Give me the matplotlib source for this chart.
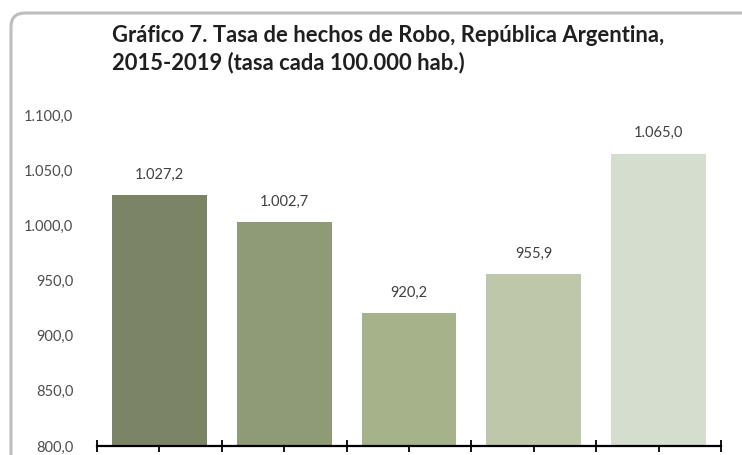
import matplotlib.pyplot as plt
from matplotlib.patches import FancyBboxPatch
from matplotlib.transforms import IdentityTransform

# data
years = ['2015', '2016', '2017', '2018', '2019']
tasa = [1027.2, 1002.7, 920.2, 955.9, 1065.0]
value_labels = ['1.027,2', '1.002,7', '920,2', '955,9', '1.065,0']
y_ticks = [800, 850, 900, 950, 1000, 1050, 1100]
y_tick_labels = ['800,0', '850,0', '900,0', '950,0', '1.000,0', '1.050,0', '1.100,0']
bar_colors = ['#7b8566', '#8f9a77', '#a6b38a', '#bfc7ab', '#d5ddcf']

plt.rcParams['font.family'] = ['Lato', 'DejaVu Sans']

fig = plt.figure(figsize=(7.42, 4.55), dpi=100)

# rounded chart-area frame (cut off at right and bottom like the source)
frame = FancyBboxPatch((11, -30), 800, 472, boxstyle='round,pad=0,rounding_size=14',
                       transform=IdentityTransform(), facecolor='white',
                       edgecolor='#bdbdbd', linewidth=2.2, zorder=-5)
fig.patches.append(frame)

ax = fig.add_axes([97 / 742, 1 - 446 / 455, 624 / 742, 331 / 455])
ax.set_zorder(2)
ax.patch.set_alpha(0)

x = list(range(len(years)))
ax.bar(x, tasa, width=0.76, color=bar_colors, zorder=2)

for xi, v, lab in zip(x, tasa, value_labels):
    ax.text(xi, v + 12, lab, ha='center', va='bottom', fontsize=10.5, color='#404040')

ax.set_ylim(800, 1100)
ax.set_xlim(-0.5, len(years) - 0.5)
ax.set_yticks(y_ticks)
ax.set_yticklabels(y_tick_labels, fontsize=10.5, color='#4d4d4d')
ax.tick_params(axis='y', length=0, pad=17)

ax.set_xticks([i * 0.5 - 0.5 for i in range(2 * len(years) + 1)])
ax.set_xticklabels([])
ax.tick_params(axis='x', direction='inout', length=9, width=1.3, color='black')

for side in ['top', 'right', 'left']:
    ax.spines[side].set_visible(False)
ax.spines['bottom'].set_linewidth(1.6)
ax.spines['bottom'].set_color('black')

fig.text(112 / 742, 1 - 25 / 455,
         'Gráfico 7. Tasa de hechos de Robo, República Argentina,\n2015-2019 (tasa cada 100.000 hab.)',
         ha='left', va='top', fontsize=15.8, fontweight='bold', color='#1f1f1f', linespacing=1.3)

fig.savefig('out.png', dpi=100)
